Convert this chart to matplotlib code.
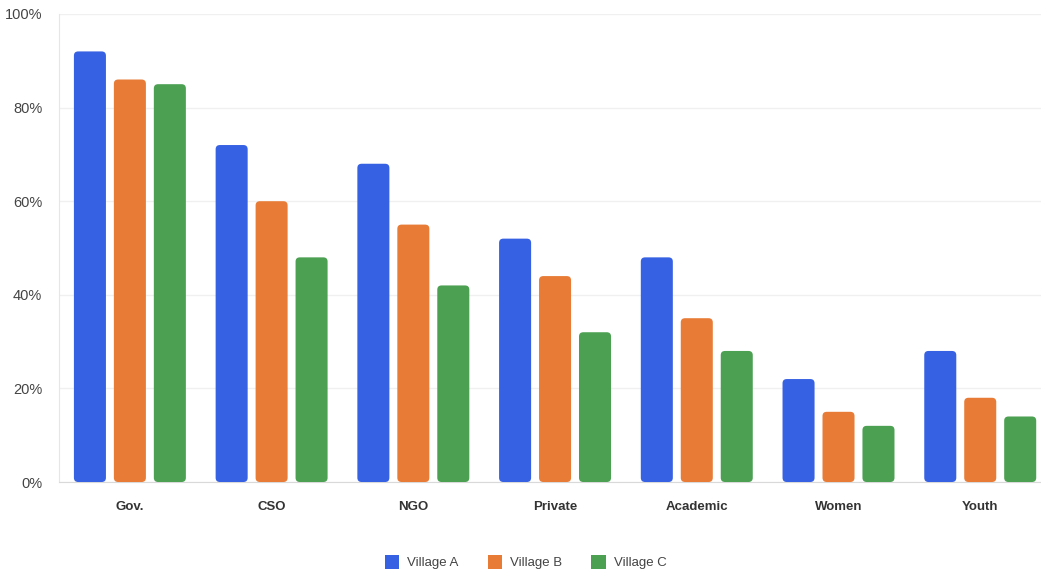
import numpy as np
import matplotlib
matplotlib.use("Agg")
import matplotlib.pyplot as plt
from matplotlib.patches import FancyBboxPatch, Patch

plt.rcParams['font.family'] = ['Liberation Sans', 'DejaVu Sans']

# Data
categories = ["Gov.", "CSO", "NGO", "Private", "Academic", "Women", "Youth"]
village_a = [92, 72, 68, 52, 48, 22, 28]
village_b = [86, 60, 55, 44, 35, 15, 18]
village_c = [85, 48, 42, 32, 28, 12, 14]
series_names = ["Village A", "Village B", "Village C"]
colors = ["#3761E3", "#E87C37", "#4BA052"]

fig = plt.figure(figsize=(10.41, 5.73), dpi=100)
ax = fig.add_axes([0.0567, 0.1588, 0.953, 0.8168])

x = np.arange(len(categories))
width = 0.226
offsets = [-0.282, 0.0, 0.282]

for vals, off, col in zip([village_a, village_b, village_c], offsets, colors):
    bars = ax.bar(x + off, vals, width, color=col)
    # swap plain rectangles for rounded ones
    for b in bars:
        b.set_visible(False)
        p = FancyBboxPatch((b.get_x(), 0), b.get_width(), b.get_height(),
                           boxstyle="round,pad=0,rounding_size=0.03",
                           mutation_aspect=30, facecolor=col, edgecolor='none',
                           zorder=3)
        ax.add_patch(p)

ax.set_xlim(-0.5, len(categories) - 0.5)
ax.set_ylim(0, 100)
ax.set_yticks(np.arange(0, 101, 20))
ax.set_yticklabels([f"{v}%" for v in range(0, 101, 20)])
ax.set_xticks(x)
ax.set_xticklabels(categories)

ax.grid(axis='y', color='#f0f0f0', linewidth=1, zorder=0)
ax.set_axisbelow(True)
for s in ['top', 'right']:
    ax.spines[s].set_visible(False)
ax.spines['left'].set_color('#e6e6e6')
ax.spines['bottom'].set_color('#d9d9d9')

ax.tick_params(axis='y', length=0, pad=12, labelsize=10.5, labelcolor='#444444')
ax.tick_params(axis='x', length=0, pad=14, labelsize=9.5, labelcolor='#333333')
for lbl in ax.get_xticklabels():
    lbl.set_fontweight('bold')

handles = [Patch(facecolor=c, edgecolor='none', label=n) for c, n in zip(colors, series_names)]
fig.legend(handles=handles, loc='center', bbox_to_anchor=(0.505, 0.019), ncol=3,
           frameon=False, fontsize=9.5, labelcolor='#444444',
           handlelength=1.1, handleheight=1.3, columnspacing=2.2, handletextpad=0.6)

fig.savefig("out.png", dpi=100)
